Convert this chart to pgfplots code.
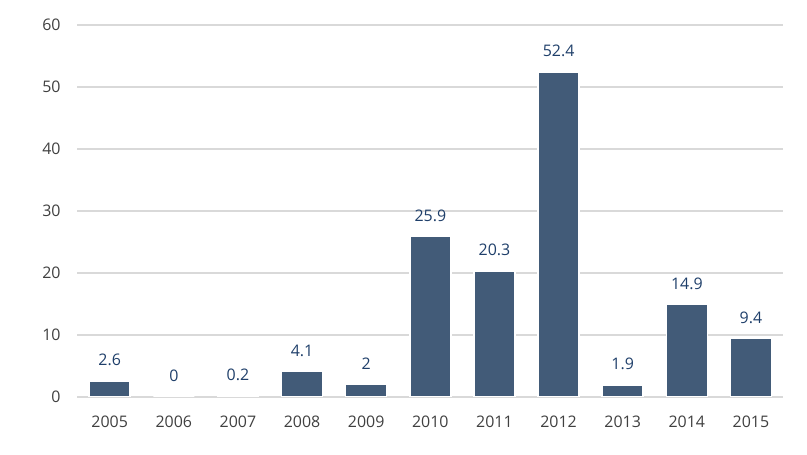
\documentclass[border=0pt]{standalone}
\usepackage{pgfplots}
\pgfplotsset{compat=1.18}
\usepackage{fontspec}
\setmainfont{Open Sans}
\definecolor{barc}{HTML}{425B78}
\definecolor{gridc}{HTML}{D9D9D9}
\definecolor{tickc}{HTML}{404040}
\definecolor{valc}{HTML}{1F3F6A}
\begin{document}
\begin{tikzpicture}
\useasboundingbox (0,0) rectangle (807bp,455bp);
\begin{axis}[
  at={(77bp,58bp)}, anchor=south west,
  scale only axis, width=706bp, height=372bp,
  xmin=-0.51, xmax=10.5, ymin=0, ymax=60,
  ytick={0,10,...,60},
  xtick={0,...,10},
  xticklabels={2005,2006,2007,2008,2009,2010,2011,2012,2013,2014,2015},
  axis line style={draw=none},
  major tick length=0pt,
  ymajorgrids, grid style={gridc, line width=1.3bp},
  tick label style={font=\fontsize{16}{18}\selectfont, text=tickc},
  /pgf/number format/assume math mode=true,
  yticklabel style={xshift=-13bp},
  xticklabel style={yshift=-15bp},
  ybar, bar width=41bp,
  nodes near coords,
  nodes near coords style={font=\fontsize{16}{18}\selectfont, text=valc, yshift=11bp},
  point meta=explicit symbolic,
]
\addplot[fill=barc, draw=white, line width=1.5bp] table[meta=label] {
x y label
0 2.6 2.6
1 0 0
2 0.2 0.2
3 4.1 4.1
4 2 2
5 25.9 25.9
6 20.3 20.3
7 52.4 52.4
8 1.9 1.9
9 14.9 14.9
10 9.4 9.4
};
\end{axis}
\end{tikzpicture}
\end{document}
